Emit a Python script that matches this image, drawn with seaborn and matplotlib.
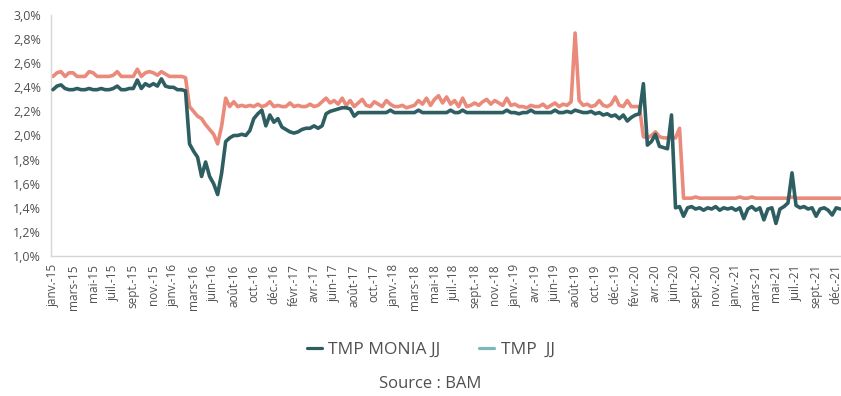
import numpy as np
import pandas as pd
import matplotlib
matplotlib.use("Agg")
import matplotlib.pyplot as plt
from matplotlib.lines import Line2D
from matplotlib.ticker import FuncFormatter
import seaborn as sns

# Overnight money-market rates (%), one reading per sampling step, Jan 2015 -> Dec 2021
monia_jj = [
    2.38, 2.41, 2.42, 2.39, 2.38, 2.38, 2.39, 2.38, 2.38, 2.39,
    2.38, 2.38, 2.39, 2.38, 2.38, 2.39, 2.41, 2.38, 2.38, 2.39,
    2.39, 2.46, 2.39, 2.43, 2.41, 2.43, 2.41, 2.47, 2.41, 2.40,
    2.40, 2.38, 2.38, 2.37, 1.93, 1.87, 1.82, 1.66, 1.78, 1.66,
    1.60, 1.51, 1.69, 1.95, 1.98, 2.00, 2.00, 2.01, 2.00, 2.04,
    2.14, 2.18, 2.21, 2.08, 2.17, 2.11, 2.14, 2.07, 2.05, 2.03,
    2.02, 2.03, 2.05, 2.06, 2.06, 2.08, 2.06, 2.08, 2.18, 2.20,
    2.21, 2.22, 2.23, 2.23, 2.22, 2.16, 2.19, 2.19, 2.19, 2.19,
    2.19, 2.19, 2.19, 2.19, 2.21, 2.19, 2.19, 2.19, 2.19, 2.19,
    2.19, 2.21, 2.19, 2.19, 2.19, 2.19, 2.19, 2.19, 2.19, 2.21,
    2.19, 2.19, 2.21, 2.19, 2.19, 2.19, 2.19, 2.19, 2.19, 2.19,
    2.19, 2.19, 2.19, 2.21, 2.19, 2.19, 2.18, 2.19, 2.19, 2.21,
    2.19, 2.19, 2.19, 2.19, 2.19, 2.21, 2.19, 2.19, 2.20, 2.19,
    2.21, 2.20, 2.19, 2.19, 2.20, 2.18, 2.19, 2.17, 2.18, 2.16,
    2.17, 2.14, 2.17, 2.12, 2.15, 2.17, 2.18, 2.43, 1.92, 1.95,
    2.01, 1.91, 1.90, 1.89, 2.17, 1.40, 1.41, 1.33, 1.40, 1.41,
    1.39, 1.40, 1.38, 1.40, 1.39, 1.41, 1.38, 1.40, 1.39, 1.40,
    1.38, 1.40, 1.31, 1.39, 1.41, 1.38, 1.40, 1.30, 1.39, 1.40,
    1.27, 1.39, 1.41, 1.44, 1.69, 1.42, 1.40, 1.41, 1.39, 1.40,
    1.33, 1.39, 1.40, 1.38, 1.34, 1.40, 1.39,
]

tmp_jj = [
    2.49, 2.52, 2.53, 2.49, 2.52, 2.52, 2.49, 2.49, 2.49, 2.53,
    2.52, 2.49, 2.49, 2.49, 2.49, 2.50, 2.53, 2.49, 2.49, 2.49,
    2.49, 2.55, 2.49, 2.52, 2.53, 2.52, 2.50, 2.53, 2.51, 2.49,
    2.49, 2.49, 2.49, 2.48, 2.24, 2.20, 2.16, 2.14, 2.09, 2.05,
    2.01, 1.93, 2.08, 2.31, 2.24, 2.28, 2.24, 2.25, 2.24, 2.25,
    2.24, 2.26, 2.24, 2.25, 2.28, 2.24, 2.25, 2.24, 2.24, 2.27,
    2.24, 2.25, 2.24, 2.24, 2.26, 2.24, 2.25, 2.28, 2.31, 2.27,
    2.29, 2.26, 2.31, 2.25, 2.29, 2.24, 2.27, 2.30, 2.25, 2.24,
    2.28, 2.26, 2.24, 2.29, 2.26, 2.24, 2.24, 2.25, 2.23, 2.24,
    2.25, 2.29, 2.26, 2.31, 2.25, 2.30, 2.33, 2.27, 2.32, 2.26,
    2.29, 2.24, 2.31, 2.24, 2.25, 2.27, 2.25, 2.28, 2.30, 2.26,
    2.29, 2.27, 2.25, 2.31, 2.25, 2.26, 2.24, 2.24, 2.23, 2.25,
    2.24, 2.24, 2.26, 2.23, 2.25, 2.27, 2.24, 2.26, 2.25, 2.28,
    2.85, 2.29, 2.25, 2.26, 2.24, 2.25, 2.29, 2.25, 2.24, 2.26,
    2.32, 2.25, 2.24, 2.29, 2.24, 2.24, 2.24, 1.99, 1.98, 2.00,
    2.03, 1.99, 1.98, 1.98, 1.98, 1.98, 2.06, 1.48, 1.48, 1.48,
    1.49, 1.48, 1.48, 1.48, 1.48, 1.48, 1.48, 1.48, 1.48, 1.48,
    1.48, 1.49, 1.48, 1.48, 1.49, 1.48, 1.48, 1.48, 1.48, 1.48,
    1.48, 1.48, 1.48, 1.48, 1.49, 1.48, 1.48, 1.48, 1.48, 1.48,
    1.48, 1.48, 1.48, 1.48, 1.48, 1.48, 1.48,
]

month_labels = [
    "janv.-15", "mars-15", "mai-15", "juil.-15", "sept.-15", "nov.-15",
    "janv.-16", "mars-16", "juin-16", "août-16", "oct.-16", "déc.-16",
    "févr.-17", "avr.-17", "juin-17", "août-17", "oct.-17", "janv.-18",
    "mars-18", "mai-18", "juil.-18", "sept.-18", "nov.-18", "janv.-19",
    "avr.-19", "juin-19", "août-19", "oct.-19", "déc.-19", "févr.-20",
    "avr.-20", "juin-20", "sept.-20", "nov.-20", "janv.-21", "mars-21",
    "mai-21", "juil.-21", "sept.-21", "déc.-21",
]
label_step = 5  # observations between two axis labels

series_names = ["TMP MONIA JJ", "TMP  JJ"]

TEAL = "#2e5e62"
SALMON = "#ea8a7b"
LEGEND_LIGHT = "#7bb9bd"
GREY_TXT = "#505050"
AXIS_GREY = "#d6d6d6"

sns.set_style("white")
plt.rcParams["font.family"] = ["Open Sans", "DejaVu Sans"]

df = pd.DataFrame({
    "obs": np.arange(len(monia_jj)),
    "monia": monia_jj,
    "tmp": tmp_jj,
})

fig = plt.figure(figsize=(8.41, 3.96), dpi=100)
ax = fig.add_axes([0.0606, 0.3535, 0.9394, 0.6087])

sns.lineplot(data=df, x="obs", y="tmp", ax=ax, color=SALMON, lw=2.6,
             solid_joinstyle="round", zorder=2)
sns.lineplot(data=df, x="obs", y="monia", ax=ax, color=TEAL, lw=2.6,
             solid_joinstyle="round", zorder=3)

ax.set_ylim(1.0, 3.0)
ax.set_yticks(np.arange(1.0, 3.01, 0.2))
ax.yaxis.set_major_formatter(FuncFormatter(lambda v, _: f"{v:.1f}%".replace(".", ",")))
ax.set_xlim(-0.5, len(monia_jj) - 0.8)
ax.set_xticks(np.arange(len(month_labels)) * label_step)
ax.set_xticklabels(month_labels, rotation=90)
ax.set_xlabel("")
ax.set_ylabel("")

ax.tick_params(axis="y", labelsize=9, colors=GREY_TXT, length=4, width=0.8,
               color=AXIS_GREY, pad=3)
ax.tick_params(axis="x", labelsize=8.5, colors=GREY_TXT, length=0, pad=6)
for side in ("top", "right"):
    ax.spines[side].set_visible(False)
for side in ("left", "bottom"):
    ax.spines[side].set_color(AXIS_GREY)
    ax.spines[side].set_linewidth(1.0)

handles = [Line2D([], [], color=TEAL, lw=2.3), Line2D([], [], color=LEGEND_LIGHT, lw=2.3)]
fig.legend(handles, series_names, loc="center", bbox_to_anchor=(0.512, 1 - 350 / 396),
           ncol=2, frameon=False, fontsize=12.5, handlelength=0.9, handletextpad=0.35,
           columnspacing=2.2, labelcolor=GREY_TXT)

fig.text(0.512, 1 - 384 / 396, "Source : BAM", ha="center", va="center",
         fontsize=12, color=GREY_TXT)

fig.savefig("out.png", dpi=100)
